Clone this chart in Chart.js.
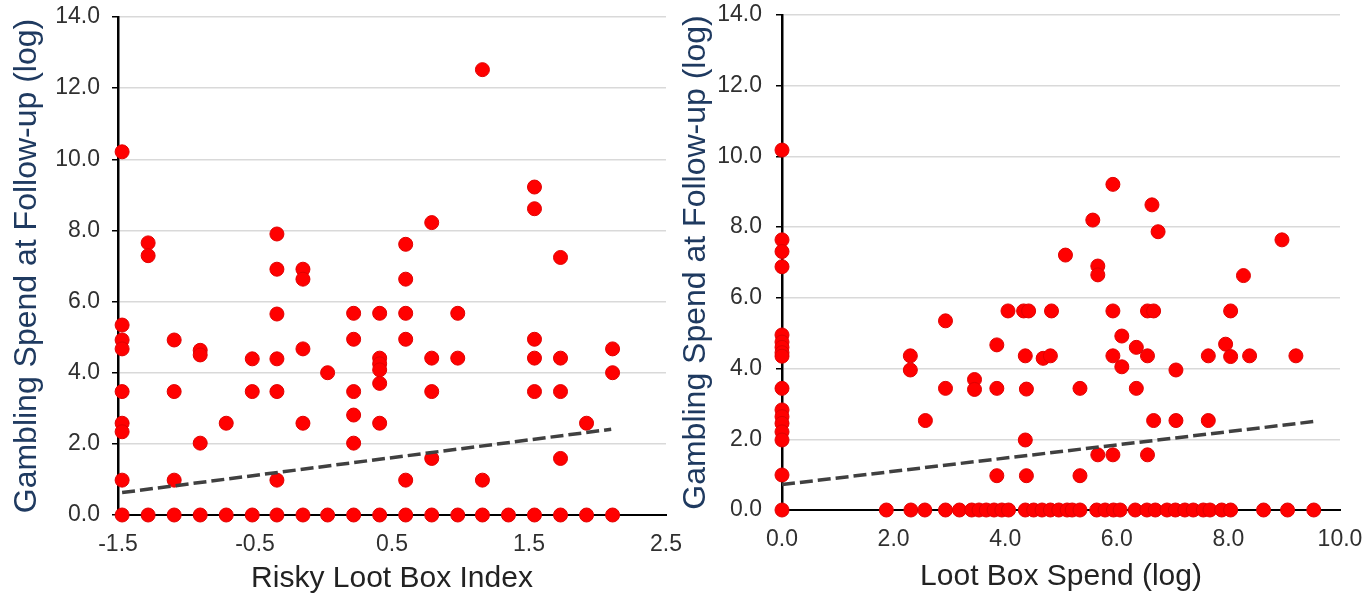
<!DOCTYPE html>
<html>
<head>
<meta charset="utf-8">
<script src="https://cdn.jsdelivr.net/npm/chart.js@4/dist/chart.umd.min.js"></script>
<style>
    html, body { margin: 0; padding: 0; background: #fff; }
    body { width: 1365px; height: 597px; position: relative; overflow: hidden; }
    canvas { position: absolute; top: 0; }
    #leftChart { left: 0; }
    #rightChart { left: 670px; }
</style>
</head>
<body>
<canvas id="leftChart" width="684" height="597"></canvas>
<canvas id="rightChart" width="695" height="597"></canvas>
<script>
// ===============================
// DATA
// ===============================
const yTicks = [0, 2, 4, 6, 8, 10, 12, 14];
const leftXTicks = [-1.5, -0.5, 0.5, 1.5, 2.5];
const rightXTicks = [0, 2, 4, 6, 8, 10];

// risky loot box index vs gambling spend (log)
const leftX = [
    -1.47, -1.47, -1.47, -1.47, -1.47, -1.47, -1.47, -1.47, -1.47,
    -1.28, -1.28, -1.28,
    -1.09, -1.09, -1.09, -1.09,
    -0.90, -0.90, -0.90, -0.90,
    -0.71, -0.71,
    -0.52, -0.52, -0.52,
    -0.34, -0.34, -0.34, -0.34, -0.34, -0.34, -0.34,
    -0.15, -0.15, -0.15, -0.15, -0.15,
    0.03, 0.03,
    0.22, 0.22, 0.22, 0.22, 0.22, 0.22,
    0.41, 0.41, 0.41, 0.41, 0.41, 0.41, 0.41,
    0.60, 0.60, 0.60, 0.60, 0.60, 0.60,
    0.79, 0.79, 0.79, 0.79, 0.79,
    0.98, 0.98, 0.98,
    1.16, 1.16, 1.16,
    1.35,
    1.54, 1.54, 1.54, 1.54, 1.54, 1.54,
    1.73, 1.73, 1.73, 1.73, 1.73,
    1.92, 1.92,
    2.11, 2.11, 2.11
];
const leftY = [
    10.21, 5.34, 4.92, 4.67, 3.47, 2.58, 2.34, 0.98, 0,
    7.65, 7.29, 0,
    4.92, 3.47, 0.98, 0,
    4.63, 4.50, 2.02, 0,
    2.58, 0,
    4.39, 3.47, 0,
    7.90, 6.91, 5.65, 4.39, 3.47, 0.98, 0,
    6.91, 6.63, 4.67, 2.58, 0,
    4.00, 0,
    5.67, 4.94, 3.47, 2.81, 2.02, 0,
    5.67, 4.41, 4.25, 4.08, 3.70, 2.58, 0,
    7.61, 6.63, 5.67, 4.94, 0.98, 0,
    8.22, 4.41, 3.47, 1.59, 0,
    5.67, 4.41, 0,
    12.52, 0.98, 0,
    0,
    9.22, 8.61, 4.94, 4.41, 3.47, 0,
    7.24, 4.41, 3.47, 1.59, 0,
    2.58, 0,
    4.67, 4.00, 0
];
const leftTrendX = [-1.47, 2.10];
const leftTrendY = [0.63, 2.41];

// loot box spend (log) vs gambling spend (log)
const rightX = [
    0, 0, 0, 0, 0, 0, 0, 0, 0, 0, 0, 0, 0, 0, 0, 0, 0,
    5.08, 2.93, 2.30, 2.30, 2.93, 3.45, 3.45, 2.57, 3.85, 3.85, 3.85,
    4.05, 4.33, 4.42, 4.83, 4.36, 4.68, 4.81, 4.38, 4.36, 4.38,
    5.93, 6.63, 5.57, 6.74, 8.96, 5.66, 5.66, 8.27,
    5.93, 6.55, 6.66, 8.04, 6.09, 6.35, 5.93, 6.09, 6.55, 7.06,
    7.64, 7.95, 8.04, 8.38, 9.21, 5.34, 6.35,
    6.66, 7.06, 7.64, 5.66, 5.93, 6.55, 5.34
];
const rightY = [
    10.18, 7.64, 7.31, 6.88, 4.95, 4.75, 4.60, 4.45, 4.35, 3.44, 2.83, 2.64, 2.45, 2.21, 1.98, 0.99, 0,
    7.21, 5.35, 4.36, 3.96, 3.44, 3.69, 3.41, 2.53, 4.67, 3.44, 0.97,
    5.63, 5.63, 5.63, 5.63, 4.36, 4.29, 4.36, 3.42, 1.98, 0.97,
    9.21, 8.63, 8.20, 7.87, 7.64, 6.90, 6.65, 6.63,
    5.63, 5.63, 5.63, 5.63, 4.92, 4.60, 4.36, 4.05, 4.36, 3.96,
    4.36, 4.69, 4.34, 4.36, 4.36, 3.44, 3.44,
    2.53, 2.53, 2.53, 1.56, 1.56, 1.56, 0.97
];
const rightZeroX = [
    1.87, 2.31, 2.56, 2.93, 3.18, 3.40, 3.53, 3.66, 3.80, 3.94, 4.06,
    4.36, 4.51, 4.66, 4.81, 4.96, 5.11, 5.20, 5.34, 5.64, 5.79, 5.94, 6.06,
    6.33, 6.54, 6.69, 6.90, 7.05, 7.22, 7.37, 7.55, 7.67, 7.88, 8.04,
    8.63, 9.06, 9.53
];
const rightTrendX = [0, 9.52];
const rightTrendY = [0.72, 2.50];

// ===============================
// STYLE
// ===============================
const FONT = "'Liberation Sans', Arial, sans-serif";
const TICK_COLOR = "#303030";
const Y_TITLE_COLOR = "#1f3a60";
const GRID_COLOR = "#d9d9d9";

const toPoints = (xs, ys) => xs.map((x, i) => ({ x, y: ys[i] }));
const fmt1 = (v) => Number(v).toFixed(1);

function makeChart(canvasId, cfg) {
    const pts = toPoints(cfg.xs, cfg.ys);
    return new Chart(document.getElementById(canvasId), {
        type: "scatter",
        data: {
            datasets: [
                {
                    data: toPoints(cfg.trendX, cfg.trendY),
                    showLine: true,
                    borderColor: "#404040",
                    borderWidth: 3.5,
                    borderDash: [13, 5],
                    pointRadius: 0,
                    clip: false
                },
                {
                    data: pts,
                    backgroundColor: "#ff0000",
                    borderColor: "#e00000",
                    borderWidth: 1,
                    pointRadius: 7,
                    clip: false
                }
            ]
        },
        options: {
            responsive: false,
            animation: false,
            devicePixelRatio: 1,
            layout: { padding: cfg.padding },
            plugins: { legend: { display: false }, tooltip: { enabled: false } },
            scales: {
                x: {
                    type: "linear",
                    min: cfg.xTicks[0],
                    max: cfg.xTicks[cfg.xTicks.length - 1],
                    afterBuildTicks: (scale) => { scale.ticks = cfg.xTicks.map(v => ({ value: v })); },
                    afterFit: (scale) => {
                        scale.height = cfg.xHeight;
                        scale.paddingLeft = 0;
                        scale.paddingRight = 0;
                    },
                    grid: { display: false },
                    border: { display: true, color: "#000", width: 2 },
                    ticks: { color: TICK_COLOR, font: { family: FONT, size: 23 }, padding: 8, callback: fmt1, maxRotation: 0 },
                    title: {
                        display: true,
                        text: cfg.xTitle,
                        color: "#222222",
                        font: { family: FONT, size: 30 },
                        padding: { top: 0, bottom: cfg.xTitlePad }
                    }
                },
                y: {
                    min: 0,
                    max: 14,
                    afterBuildTicks: (scale) => { scale.ticks = yTicks.map(v => ({ value: v })); },
                    afterFit: (scale) => {
                        scale.width = cfg.yWidth;
                        scale.paddingTop = 0;
                        scale.paddingBottom = 0;
                    },
                    grid: {
                        color: (ctx) => (ctx.tick && ctx.tick.value === 0) ? "rgba(0,0,0,0)" : GRID_COLOR,
                        lineWidth: 1.5,
                        tickColor: "#000",
                        tickLength: 6
                    },
                    border: { display: true, color: "#000", width: 2.5 },
                    ticks: { color: TICK_COLOR, font: { family: FONT, size: 23 }, padding: cfg.yTickPad, callback: fmt1 },
                    title: {
                        display: true,
                        text: "Gambling Spend at Follow-up (log)",
                        color: Y_TITLE_COLOR,
                        font: { family: FONT, size: 32 },
                        padding: { top: cfg.yTitlePad, bottom: 0 }
                    }
                }
            }
        }
    });
}

makeChart("leftChart", {
    xs: leftX, ys: leftY,
    trendX: leftTrendX, trendY: leftTrendY,
    xTicks: leftXTicks,
    xTitle: "Risky Loot Box Index",
    padding: { top: 17, right: 18, left: 0, bottom: 0 },
    yWidth: 118, xHeight: 82,
    yTickPad: 12, yTitlePad: 8, xTitlePad: 0
});

makeChart("rightChart", {
    xs: rightX.concat(rightZeroX),
    ys: rightY.concat(rightZeroX.map(() => 0)),
    trendX: rightTrendX, trendY: rightTrendY,
    xTicks: rightXTicks,
    xTitle: "Loot Box Spend (log)",
    padding: { top: 15, right: 25, left: 0, bottom: 0 },
    yWidth: 112, xHeight: 87,
    yTickPad: 14, yTitlePad: 7, xTitlePad: 2
});
</script>
</body>
</html>
